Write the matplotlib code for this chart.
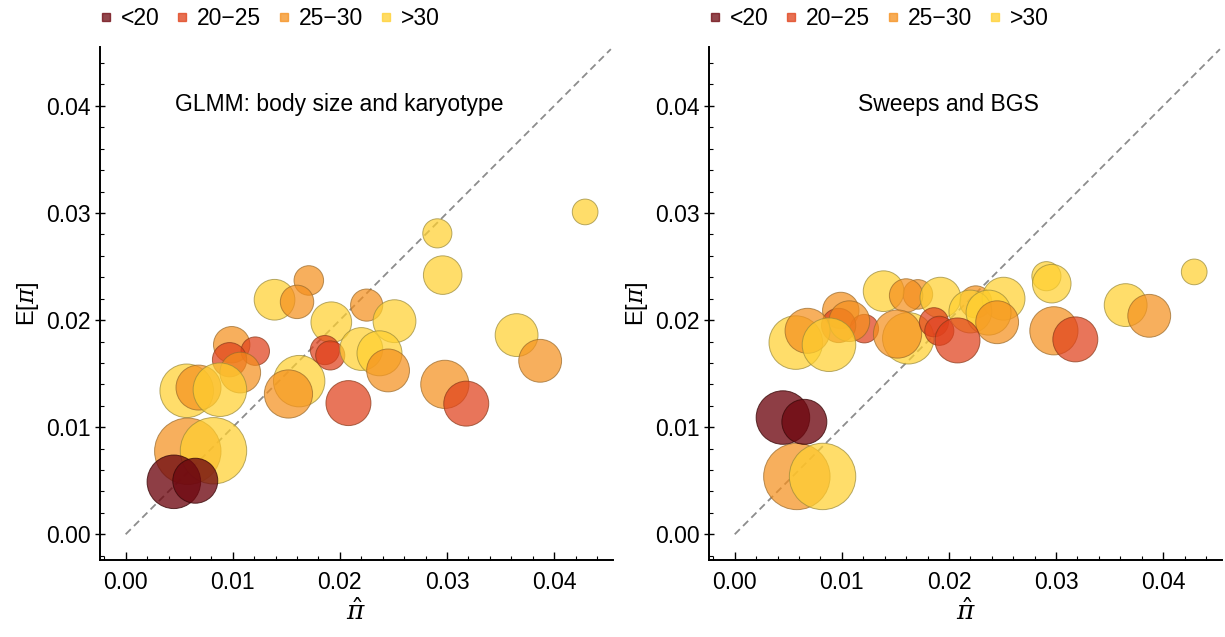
import numpy as np
import matplotlib.pyplot as plt
from matplotlib.patches import Ellipse
from matplotlib.lines import Line2D
from matplotlib.ticker import MultipleLocator

plt.rcParams['font.family'] = ['Liberation Sans', 'DejaVu Sans']
plt.rcParams['mathtext.fontset'] = 'dejavuserif'

# =====================
#  Datos por especie
# =====================

# diversidad observada (eje x, igual en ambos paneles)
pi_hat = [0.0429, 0.0291, 0.0296, 0.0171, 0.0139, 0.0160, 0.0225, 0.0192,
          0.0251, 0.0365, 0.0387, 0.0099, 0.0121, 0.0097, 0.0107, 0.0057,
          0.0068, 0.0088, 0.0162, 0.0152, 0.0186, 0.0191, 0.0220, 0.0237,
          0.0245, 0.0208, 0.0298, 0.0318, 0.0058, 0.0082, 0.0045, 0.0065]

# valor esperado segun el GLMM (panel izquierdo)
e_pi_glmm = [0.0301, 0.0281, 0.0242, 0.0237, 0.0219, 0.0217, 0.0214, 0.0198,
             0.0199, 0.0186, 0.0162, 0.0177, 0.0171, 0.0163, 0.0151, 0.0134,
             0.0137, 0.0135, 0.0143, 0.0131, 0.0172, 0.0167, 0.0173, 0.0169,
             0.0153, 0.01225, 0.0140, 0.0122, 0.00775, 0.0078, 0.0049, 0.0050]

# valor esperado con sweeps y BGS (panel derecho)
e_pi_sweeps = [0.0245, 0.0241, 0.0234, 0.0224, 0.0227, 0.0223, 0.0217, 0.0221,
               0.0220, 0.0214, 0.0204, 0.0209, 0.0192, 0.0195, 0.0199, 0.0179,
               0.0190, 0.0177, 0.0183, 0.0187, 0.0198, 0.0190, 0.0208, 0.0207,
               0.0198, 0.0181, 0.0190, 0.0182, 0.0054, 0.0054, 0.0109, 0.0105]

# tamano de burbuja (radio en unidades de datos)
bubble_r = [0.0012, 0.00136, 0.0018, 0.00138, 0.0019, 0.00156, 0.0015, 0.0019,
            0.0020, 0.0020, 0.0020, 0.0017, 0.00133, 0.0016, 0.0019, 0.0025,
            0.0021, 0.0025, 0.0024, 0.00225, 0.00136, 0.00136, 0.0020, 0.0021,
            0.0020, 0.0021, 0.00225, 0.0021, 0.0031, 0.0031, 0.0025, 0.0021]

# grupo: 0 "<20", 1 "20-25", 2 "25-30", 3 ">30"
group = [3, 3, 3, 2, 3, 2, 2, 3, 3, 3, 2, 2, 1, 1, 2, 3,
         2, 3, 3, 2, 1, 1, 3, 3, 2, 1, 2, 1, 2, 3, 0, 0]

group_labels = ["<20", "20\u221225", "25\u221230", ">30"]
group_colors = ["#6E0810", "#E0401A", "#F5901E", "#FFD030"]
group_edges = ["#3a0808", "#8a3a1a", "#9a6a2a", "#9a8a3a"]
group_alpha = [0.78, 0.72, 0.72, 0.72]

panels = [
    (e_pi_glmm, "GLMM: body size and karyotype"),
    (e_pi_sweeps, "Sweeps and BGS"),
]

# =====================
#  Grafico
# =====================

fig = plt.figure(figsize=(12.25, 6.37), dpi=100)
axes = [fig.add_axes([0.0816, 0.1209, 0.4188, 0.8053]),
        fig.add_axes([0.5788, 0.1209, 0.4188, 0.8053])]

lim = (-0.0024, 0.0455)

for ax, (yvals, title) in zip(axes, panels):
    # linea 1:1
    ax.plot([0, 0.0453], [0, 0.0453], color="#8c8c8c", linestyle=(0, (4, 2.5)),
            linewidth=1.3, zorder=1)

    for x, y, r, g in zip(pi_hat, yvals, bubble_r, group):
        ax.add_patch(Ellipse((x, y), 2 * r, 2 * r, facecolor=group_colors[g],
                             edgecolor=group_edges[g], linewidth=0.7,
                             alpha=group_alpha[g], zorder=2))

    ax.set_xlim(lim)
    ax.set_ylim(lim)
    ax.spines["top"].set_visible(False)
    ax.spines["right"].set_visible(False)
    ax.spines["left"].set_linewidth(1.4)
    ax.spines["bottom"].set_linewidth(1.4)

    ax.xaxis.set_major_locator(MultipleLocator(0.01))
    ax.yaxis.set_major_locator(MultipleLocator(0.01))
    ax.xaxis.set_minor_locator(MultipleLocator(0.002))
    ax.yaxis.set_minor_locator(MultipleLocator(0.002))
    ax.xaxis.set_major_formatter(plt.FuncFormatter(lambda v, p: f"{v:.2f}"))
    ax.yaxis.set_major_formatter(plt.FuncFormatter(lambda v, p: f"{v:.2f}"))
    ax.tick_params(axis="x", which="major", direction="in", length=6, width=1,
                   labelsize=16.5, pad=8)
    ax.tick_params(axis="x", which="minor", direction="in", length=3, width=0.8)
    ax.tick_params(axis="y", which="major", direction="inout", length=7, width=1,
                   labelsize=16.5, pad=3)
    ax.tick_params(axis="y", which="minor", direction="in", length=3, width=0.8)

    ax.set_xlabel(r"$\hat{\pi}$", fontsize=19, labelpad=3)
    ax.set_ylabel(r"E[$\pi$]", fontsize=17, labelpad=4)

    ax.text(0.467, 0.887, title, transform=ax.transAxes, ha="center",
            va="center", fontsize=16.5)

    handles = [Line2D([], [], marker="s", linestyle="", markersize=6,
                      markerfacecolor=c, markeredgecolor=c, alpha=0.75)
               for c in group_colors]
    ax.legend(handles, group_labels, loc="center", bbox_to_anchor=(0.33, 1.055),
              ncol=4, frameon=False, fontsize=16.5, handlelength=0.6,
              handletextpad=0.35, columnspacing=0.7, borderpad=0)

fig.savefig("out.png", dpi=100)
